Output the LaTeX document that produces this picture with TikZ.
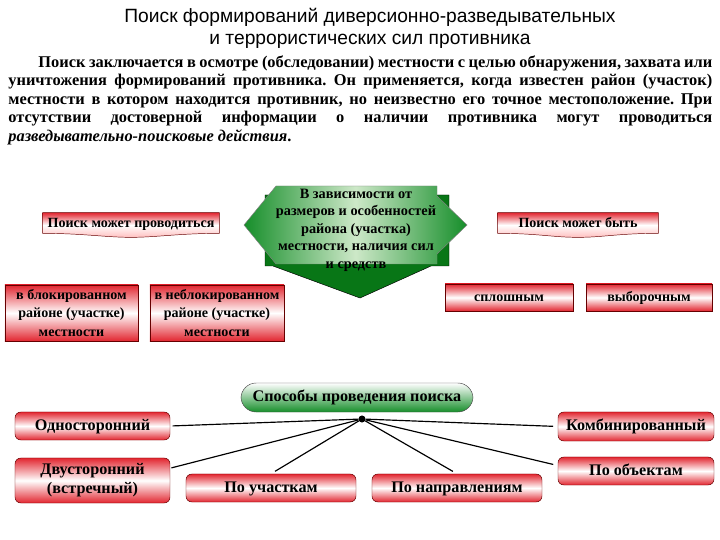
\documentclass[tikz,border=0pt]{standalone}
\usepackage{fontspec}
\setmainfont{Liberation Serif}
\setsansfont{Liberation Sans}
\usetikzlibrary{positioning}

\definecolor{boxred}{RGB}{226,38,48}
\definecolor{arrowgreen}{RGB}{22,142,42}
\definecolor{darkgreen}{RGB}{8,118,22}
\definecolor{palegreen}{RGB}{205,232,200}

\pgfdeclarelayer{back}
\pgfsetlayers{back,main}

\begin{document}
\frenchspacing
\begin{tikzpicture}[x = 0.03cm, y = -0.03cm, % one unit = one pixel of the slide
                semithick, % line style
                font = \bfseries
            ]

            \tikzstyle{redbox}=[draw = black!60!red, thin, top color = boxred,
            bottom color = boxred, middle color = white, inner sep = 1pt,
            align = center, text = black]
            \tikzstyle{roundbox}=[redbox, rounded corners = 5pt]
            \tikzstyle{docbox}=[inner sep = 1pt, text = black]
            \tikzstyle{docfill}=[draw = black!60!red, thin, top color = boxred,
            bottom color = red!25, middle color = white]
            \tikzstyle{oneline}=[text height = 0.75em, text depth = 0pt]
            \tikzstyle{topfont}=[font = \bfseries\fontsize{12}{15.5}\selectfont]
            \tikzstyle{lowfont}=[font = \bfseries\fontsize{13.8}{16}\selectfont]
            \tikzstyle{link}=[line width = 1pt]

            \useasboundingbox (0,0) rectangle (720,540);

            % heading and text
            \node[font = \sffamily\fontsize{16.4}{19}\selectfont, align = center]
            (title) at (370,28) {Поиск формирований диверсионно-разведывательных\\
                и террористических сил противника};
            \node[anchor = north west, inner sep = 0pt, text width = 21.12cm,
            align = justify, font = \bfseries\fontsize{14}{15.9}\selectfont]
            (intro) at (8,55) {\hspace*{0.9cm}Поиск заключается в осмотре
                (обследовании) местности с целью обнаружения, захвата или\linebreak
                уничтожения формирований противника. Он применяется, когда
                известен район (участок)\linebreak местности в котором находится
                противник, но неизвестно его точное местоположение. При\linebreak
                отсутствии достоверной информации о наличии противника могут
                проводиться\linebreak \textit{разведывательно-поисковые действия}.};

            % green arrow in the middle
            \draw[thin, fill = darkgreen] (265,195) -- (449,195) -- (449,266)
            -- (431,266) -- (360,298) -- (273,266) -- (265,266) -- cycle;
            \draw[thin, draw = black!50, left color = arrowgreen,
            right color = arrowgreen, middle color = palegreen] (244,225)
            -- (276,186) -- (437,186) -- (437,196) -- (467,225) -- (437,254)
            -- (437,264) -- (276,264) -- cycle;
            \node[align = center, inner sep = 0pt,
            font = \bfseries\fontsize{12.2}{15}\selectfont] (depend) at (356,230)
            {В зависимости от\\размеров и особенностей\\района (участка)\\
                местности, наличия сил\\и средств};

            \node[docbox, topfont, oneline, minimum width = 5.28cm,
            minimum height = 0.6cm] (mayrun) at (131,223) {Поиск может проводиться};
            \node[docbox, topfont, oneline, minimum width = 4.8cm,
            minimum height = 0.6cm] (maybe) at (578,223) {Поиск может быть};
            \begin{pgfonlayer}{back}
                \foreach \b in {mayrun, maybe}
                \draw[docfill] (\b.north west) -- (\b.north east) -- (\b.south east)
                .. controls +(-40,0) and +(25,0) .. ([yshift = -0.12cm]\b.south)
                .. controls +(-25,0) and +(40,0) .. (\b.south west) -- cycle;
            \end{pgfonlayer}

            \node[redbox, topfont, minimum width = 3.99cm, minimum height = 1.68cm]
            (block) at (71.5,313) {в блокированном\\районе (участке)\\местности};
            \node[redbox, topfont, minimum width = 4.02cm, minimum height = 1.68cm]
            (unblock) at (217,313) {в неблокированном\\районе (участке)\\местности};
            \node[redbox, topfont, oneline, minimum width = 3.84cm,
            minimum height = 0.81cm] (full) at (509,297.5) {сплошным};
            \node[redbox, topfont, oneline, minimum width = 3.78cm,
            minimum height = 0.81cm] (select) at (649,297.5) {выборочным};

            % ways of searching
            \node[draw = black!70, thin, rounded corners = 13pt, top color = white,
            bottom color = arrowgreen, lowfont, oneline, minimum width = 6.96cm,
            minimum height = 0.87cm] (ways) at (357,397.5)
            {Способы проведения поиска};
            \node[circle, fill = black, inner sep = 0pt, minimum size = 6pt]
            (hub) at (362,419) {};

            \node[roundbox, lowfont, oneline, minimum width = 4.65cm,
            minimum height = 0.84cm] (oneside) at (92.5,426) {Односторонний};
            \node[roundbox, lowfont, minimum width = 4.65cm, minimum height = 1.35cm]
            (twoside) at (92.5,480.5) {Двусторонний\\(встречный)};
            \node[roundbox, lowfont, oneline, minimum width = 5.1cm,
            minimum height = 0.84cm] (areas) at (271,488) {По участкам};
            \node[roundbox, lowfont, oneline, minimum width = 5.1cm,
            minimum height = 0.84cm] (routes) at (457,488) {По направлениям};
            \node[roundbox, lowfont, oneline, minimum width = 4.68cm,
            minimum height = 0.87cm] (mixed) at (636,426.5) {Комбинированный};
            \node[roundbox, lowfont, oneline, minimum width = 4.68cm,
            minimum height = 0.84cm] (objects) at (636,471) {По объектам};

            \path[link] (hub) edge[shorten > = 2pt] (oneside.east);
            \path[link] (hub) edge[shorten > = 1pt] (twoside.9);
            \path[link] (hub) edge[shorten > = 4pt] (areas.north);
            \path[link] (hub) edge[shorten > = 4pt] (routes.north);
            \path[link] (hub) edge[shorten > = 4pt] (mixed.west);
            \path[link] (hub) edge[shorten > = 4pt] (objects.176);
        \end{tikzpicture}
\end{document}
